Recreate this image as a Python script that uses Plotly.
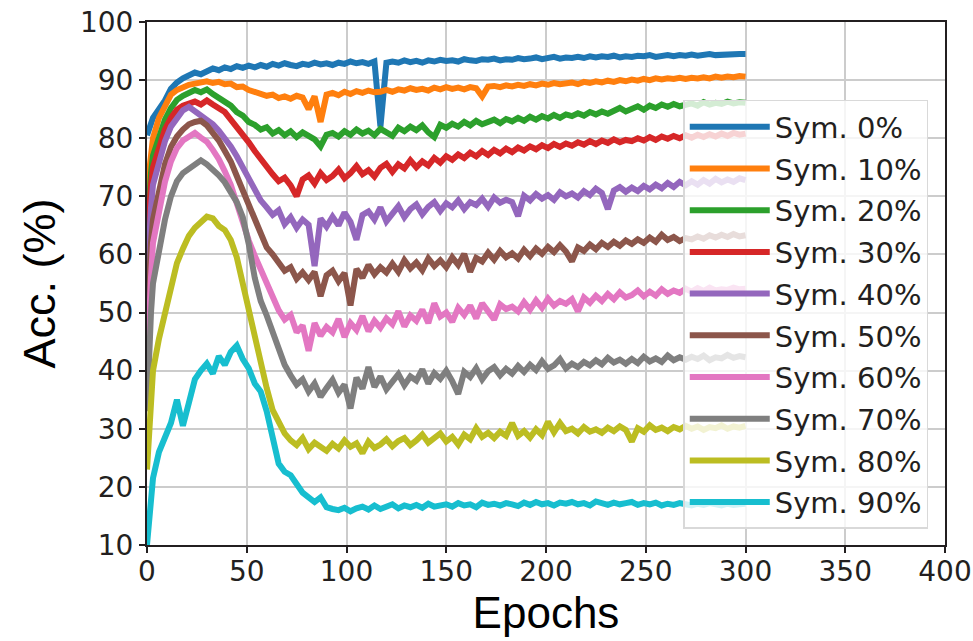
import plotly.graph_objects as go

epochs = [0, 1, 2] + list(range(3, 301, 3))

names = ["Sym. 0%", "Sym. 10%", "Sym. 20%", "Sym. 30%", "Sym. 40%",
         "Sym. 50%", "Sym. 60%", "Sym. 70%", "Sym. 80%", "Sym. 90%"]
colors = ["#1f77b4", "#ff7f0e", "#2ca02c", "#d62728", "#9467bd",
          "#8c564b", "#e377c2", "#7f7f7f", "#bcbd22", "#17becf"]

sym0 = [80.5, 81.5, 82.5,
        83.5, 85.0, 86.5, 88.5, 89.6, 90.3, 90.8, 91.3, 91.0, 91.6,
        92.0, 91.7, 92.2, 91.9, 92.4, 92.1, 92.5, 92.2, 92.6, 92.3,
        92.8, 92.5, 92.9, 92.6, 92.4, 92.8, 92.6, 93.0, 92.7, 92.9,
        92.6, 93.0, 92.8, 93.2, 92.9, 93.1, 92.8, 93.2, 82.0, 93.0,
        93.2, 93.0, 93.4, 93.1, 93.3, 93.0, 93.4, 93.2, 93.5, 93.3,
        93.4, 93.2, 93.6, 93.4, 93.3, 93.6, 93.5, 93.7, 93.4, 93.6,
        93.5, 93.8, 93.6, 93.7, 93.9, 93.6, 93.8, 94.0, 93.7, 93.9,
        93.8, 94.0, 93.8, 94.1, 93.9, 94.1, 94.0, 94.2, 93.9, 94.1,
        94.0, 94.2, 94.1, 94.3, 94.0, 94.2, 94.3, 94.1, 94.3, 94.2,
        94.4, 94.2, 94.3, 94.5, 94.3, 94.4, 94.5, 94.4, 94.5, 94.5]

sym10 = [71.0, 75.0, 78.0,
         80.0, 83.5, 85.5, 87.5, 88.3, 88.8, 89.2, 89.4, 89.6, 89.8,
         89.5, 89.7, 89.3, 89.4, 88.8, 88.9, 88.3, 88.0, 87.6, 87.3,
         87.5, 86.9, 87.2, 86.8, 87.3, 87.0, 85.0, 87.2, 82.8, 87.5,
         87.8, 87.4, 88.0, 87.6, 88.1, 87.8, 88.2, 87.9, 88.0, 88.3,
         88.0, 88.4, 88.2, 88.6, 88.3, 88.5, 88.2, 88.7, 88.4, 88.8,
         88.5, 88.7, 88.4, 88.8, 88.6, 87.2, 88.9, 89.0, 88.8, 89.1,
         88.9, 89.2, 89.0, 89.3, 89.1, 89.4, 89.2, 89.5, 89.3, 89.4,
         89.6, 89.3, 89.7, 89.5, 89.8, 89.6, 89.9, 89.7, 90.0, 89.8,
         90.1, 89.9, 90.2, 90.0, 90.3, 90.1, 90.3, 90.2, 90.4, 90.2,
         90.4, 90.3, 90.5, 90.3, 90.6, 90.4, 90.6, 90.5, 90.7, 90.6]

sym20 = [63.0, 70.0, 74.0,
         77.0, 80.5, 83.2, 85.2, 86.6, 87.3, 87.8, 88.3, 87.9, 88.4,
         87.6, 87.0, 86.3, 85.6, 84.5, 83.9, 82.8, 82.3, 81.5, 81.9,
         80.8, 81.4, 80.5, 81.2, 80.2, 81.0, 80.4, 79.8, 78.6, 80.6,
         80.9, 80.3, 81.2, 80.6, 81.5, 80.8, 81.3, 80.5, 81.6, 81.0,
         80.4, 81.8, 81.2, 82.0, 81.4, 82.2, 81.0, 80.2, 82.3, 81.8,
         82.5, 82.0, 82.8, 82.2, 83.0, 82.4, 82.9, 83.2, 82.6, 83.3,
         82.9, 83.5, 83.0, 83.7, 83.2, 83.8, 83.4, 84.0, 83.5, 84.1,
         83.8, 84.3, 83.9, 84.5, 84.1, 84.6, 84.2, 84.8, 85.2, 84.6,
         85.0, 85.5, 84.9, 85.6, 85.2, 85.8, 85.4, 85.9, 85.5, 85.8,
         86.0, 85.6, 86.2, 85.8, 86.1, 85.9, 86.3, 86.0, 86.2, 86.1]

sym30 = [62.0, 68.0, 72.0,
         75.0, 78.5, 81.5, 83.5, 84.9, 85.6, 86.0, 86.3, 85.8, 86.5,
         85.8, 85.2, 84.5, 83.2, 82.0, 80.6, 79.3, 77.8, 76.4, 74.8,
         73.8, 72.6, 73.2, 71.9, 70.0, 72.9, 73.6, 72.2, 74.0, 72.8,
         73.5, 74.6, 73.1, 74.0, 75.2, 73.8, 74.5, 73.4, 74.9, 75.6,
         74.2, 75.5, 74.8, 76.2, 75.0, 76.0, 75.3, 76.6, 75.8, 76.9,
         76.3, 77.2, 76.6, 77.5, 76.9, 77.8, 77.1, 78.0, 77.4, 78.2,
         77.6, 78.4, 77.9, 78.6, 78.1, 78.8, 78.3, 79.0, 78.5, 79.1,
         78.7, 79.3, 78.9, 79.5, 79.0, 79.6, 79.2, 79.8, 79.3, 79.7,
         79.5, 80.0, 79.6, 80.2, 79.7, 80.3, 79.9, 80.4, 80.0, 80.5,
         80.1, 80.6, 80.2, 80.7, 80.3, 80.8, 80.4, 80.9, 80.6, 80.8]

sym40 = [55.0, 63.0, 68.0,
         72.0, 76.0, 79.5, 82.0, 83.6, 84.8, 85.4, 84.6, 84.0, 83.3,
         82.4, 81.3, 80.1, 78.6, 76.9, 75.0, 73.2, 71.0, 69.3, 68.1,
         66.8, 67.6, 65.2, 66.4, 64.6, 66.0, 65.1, 58.0, 66.2, 64.8,
         66.5, 65.0, 67.2, 65.6, 62.5, 66.8, 67.4, 66.0, 68.1, 65.7,
         67.0, 68.3, 66.4, 67.8, 68.6, 66.9, 68.2, 69.0, 67.5, 68.8,
         68.1, 69.3, 67.8, 69.0, 68.5, 69.6, 68.2, 69.8, 68.9, 69.4,
         69.0, 66.6, 70.1, 69.3, 70.4, 69.6, 70.2, 69.4, 70.7, 70.0,
         70.5, 69.8, 70.9, 70.2, 71.3, 70.6, 67.8, 71.0, 71.6, 70.8,
         71.5, 70.9, 71.8, 71.2, 72.0, 71.4, 72.3, 71.6, 72.5, 71.9,
         72.6, 72.0, 72.8, 72.2, 73.0, 72.4, 72.9, 72.5, 73.1, 72.8]

sym50 = [47.0, 56.0, 62.0,
         66.0, 71.0, 75.5, 78.5, 80.3, 81.5, 82.4, 82.8, 83.0, 82.2,
         81.0, 79.6, 77.8, 76.0, 73.5, 71.0, 68.5, 65.8, 63.4, 61.2,
         60.0, 58.6, 57.2, 57.8, 55.8, 56.9, 55.6, 57.0, 52.8, 56.4,
         57.2, 55.4, 56.8, 51.2, 57.5, 56.0, 58.2, 56.6, 57.8, 56.9,
         58.4, 57.0, 59.0, 57.6, 58.6, 57.3, 59.3, 58.0, 59.0, 57.8,
         59.5, 58.2, 60.1, 57.0, 59.4, 58.8, 60.3, 59.1, 60.6, 59.5,
         60.2, 59.3, 60.8, 59.7, 61.0, 60.1, 61.3, 60.4, 61.6, 60.5,
         58.8, 61.2, 60.6, 61.7, 60.9, 62.0, 61.3, 62.2, 61.5, 62.4,
         61.8, 62.6, 62.0, 62.9, 62.2, 63.4, 62.5, 63.0, 62.3, 62.8,
         62.6, 63.1, 62.7, 63.3, 62.9, 63.4, 63.0, 63.5, 63.1, 63.3]

sym60 = [40.0, 50.0, 56.0,
         62.0, 67.5, 72.5, 76.0, 78.3, 79.6, 80.3, 80.9, 80.1, 79.4,
         78.0, 76.4, 74.3, 72.0, 68.8, 65.5, 62.4, 59.8, 57.5, 55.0,
         53.2, 50.4, 48.8, 49.6, 46.6, 47.8, 43.4, 48.2, 46.0, 47.5,
         46.6, 48.9, 45.8, 48.2, 47.0, 49.4, 46.8, 48.6, 47.4, 49.0,
         48.0, 50.2, 47.6, 49.5, 48.6, 50.5, 48.2, 51.6, 49.3, 50.0,
         48.4, 50.8, 49.6, 51.2, 49.0, 51.6, 50.2, 48.8, 51.4, 50.6,
         51.0, 50.2, 51.8, 50.5, 52.1, 50.8, 52.4, 51.2, 52.0, 51.5,
         52.3, 50.2, 52.6, 51.7, 52.9, 52.0, 53.2, 52.3, 53.5, 52.6,
         53.0, 53.8, 52.8, 53.6, 52.9, 54.0, 53.2, 53.8, 53.4, 54.1,
         53.6, 54.2, 53.7, 54.3, 53.8, 54.0, 53.9, 54.3, 54.0, 54.1]

sym70 = [33.0, 43.0, 50.0,
         55.0, 61.0, 66.0, 70.0, 72.6, 74.0, 74.8, 75.6, 76.2, 75.5,
         74.6, 73.6, 72.4, 70.8, 69.0, 66.4, 61.8, 56.0, 52.0, 49.5,
         46.8, 43.8, 41.0, 39.2, 37.6, 38.5, 36.4, 37.8, 35.5, 37.0,
         38.4, 36.2, 37.6, 33.5, 38.8, 36.9, 40.6, 37.2, 39.0, 36.8,
         38.2, 39.4, 37.5, 39.0, 38.3, 40.2, 37.8, 39.6, 38.6, 40.0,
         38.2, 36.0, 39.8, 38.9, 40.4, 38.5, 39.9, 40.6, 39.2, 40.3,
         39.5, 40.8, 39.8, 41.0, 40.1, 41.6, 40.3, 40.9, 42.0, 40.4,
         41.2, 40.6, 41.5, 40.9, 41.8, 41.1, 42.2, 41.4, 41.9, 41.2,
         42.0, 41.3, 42.4, 41.6, 42.1, 41.5, 42.6, 41.8, 42.3, 41.9,
         42.4, 42.0, 42.6, 41.8, 42.3, 42.1, 42.7, 42.2, 42.5, 42.3]

sym80 = [23.0, 30.0, 36.0,
         40.0, 45.5, 50.0, 55.0, 58.5, 61.0, 63.2, 64.6, 65.5, 66.5,
         66.2, 64.9, 64.2, 62.5, 59.5, 55.0, 50.0, 45.5, 41.0, 37.0,
         33.2, 31.0, 29.2, 28.0, 27.2, 28.4, 26.5, 27.6, 27.0, 26.2,
         27.4, 26.6, 28.0, 26.9, 27.5, 25.8, 27.8, 26.7, 27.3, 28.2,
         27.0, 27.9, 28.4, 27.2, 28.0, 29.0, 27.6, 28.5, 29.2, 27.8,
         28.6, 27.3, 29.0, 28.2, 30.1, 28.6, 29.3, 28.4, 29.5, 28.8,
         31.0, 28.8, 29.6, 28.5, 29.9, 28.9, 31.2, 29.4, 31.0, 29.6,
         30.0, 29.2, 30.3, 29.5, 29.9, 29.3, 30.2, 29.6, 30.4, 29.8,
         27.8, 30.1, 29.5, 30.6, 29.8, 30.2, 29.6, 30.3, 29.9, 30.5,
         30.0, 30.4, 29.8, 30.3, 30.1, 30.6, 30.0, 30.4, 30.2, 30.5]

sym90 = [10.0, 15.0, 19.5,
         21.5, 26.0, 28.5, 31.0, 35.0, 30.5, 34.5, 38.5, 40.0, 41.2,
         39.5, 42.5, 41.0, 43.2, 44.3, 42.0, 40.4, 37.8, 36.4, 33.0,
         28.5, 24.0, 22.6, 22.0, 20.5, 19.0, 18.2, 17.4, 18.2, 16.5,
         16.2, 16.0, 16.4, 15.8, 16.3, 16.6, 16.1, 16.8, 16.2, 16.5,
         17.0, 16.3, 16.8, 16.5, 16.9, 16.4, 17.1, 16.6, 16.9, 17.0,
         16.6, 17.2, 16.8, 17.0, 16.5, 17.3, 16.9, 17.1, 16.8, 17.2,
         17.0, 16.7, 17.3, 16.9, 17.4, 17.0, 17.2, 16.8, 17.3, 17.1,
         17.4, 17.0, 17.2, 16.8, 17.5, 17.1, 16.9, 17.3, 17.0, 17.2,
         17.4, 16.9, 17.2, 17.0, 17.3, 16.8, 17.1, 16.9, 17.2, 17.0,
         16.8, 17.1, 16.9, 17.2, 17.0, 16.8, 17.1, 16.9, 17.0, 17.1]

series = [sym0, sym10, sym20, sym30, sym40, sym50, sym60, sym70, sym80, sym90]

x_ticks = [0, 50, 100, 150, 200, 250, 300, 350, 400]
y_ticks = [10, 20, 30, 40, 50, 60, 70, 80, 90, 100]

fig = go.Figure()
for i, (name, vals, col) in enumerate(zip(names, series, colors)):
    fig.add_trace(go.Scatter(
        x=epochs[:len(vals)], y=vals, mode="lines", name=name,
        legendgroup=name,
        line=dict(color=col, width=6),
    ))

axis_common = dict(
    showline=True, linecolor="#231f20", linewidth=2, mirror=True,
    ticks="outside", ticklen=6, tickwidth=1.5, tickcolor="#231f20",
    showgrid=True, gridcolor="#cccccc", gridwidth=2,
    zeroline=False, automargin=False,
    tickfont=dict(family="DejaVu Sans", size=28, color="#231f20"),
)

fig.update_layout(
    width=973, height=641,
    margin=dict(l=147, r=28, t=22, b=96, autoexpand=False),
    paper_bgcolor="white", plot_bgcolor="white",
    xaxis=dict(range=[0, 400], tickvals=x_ticks, **axis_common,
               ticklabelstandoff=-6,
               title=dict(text="Epochs", standoff=4,
                          font=dict(family="Liberation Sans", size=44, color="black"))),
    yaxis=dict(range=[10, 100], tickvals=y_ticks, **axis_common,
               title=dict(text="Acc. (%)", standoff=10,
                          font=dict(family="Liberation Sans", size=45, color="black"))),
    legend=dict(
        x=0.672, y=0.851, xanchor="left", yanchor="top",
        bgcolor="rgba(255,255,255,0.8)", bordercolor="#d9d9d9", borderwidth=1.5,
        font=dict(family="DejaVu Sans", size=29, color="#231f20"),
        tracegroupgap=1, itemwidth=80,
    ),
    showlegend=True,
)

fig.write_html("out.html")
